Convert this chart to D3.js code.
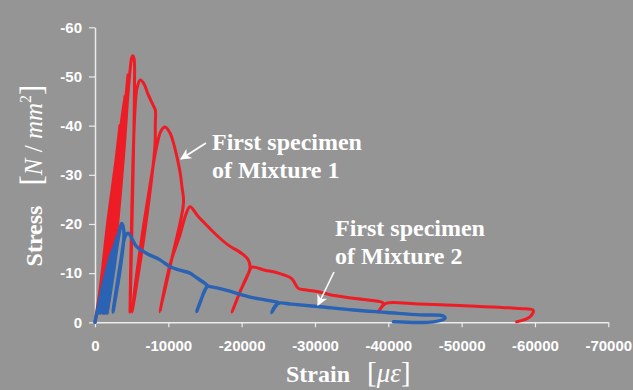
<!DOCTYPE html>
<html>
<head>
<meta charset="utf-8">
<script src="https://cdn.jsdelivr.net/npm/d3@7"></script>
<style>
  html, body { margin: 0; padding: 0; background: #959595; }
  svg { display: block; }
</style>
</head>
<body>
<svg id="chart" width="633" height="390"></svg>
<script>
// Axis ticks
const strainTicks = [0, -10000, -20000, -30000, -40000, -50000, -60000, -70000];
const stressTicks = [0, -10, -20, -30, -40, -50, -60];

// Mixture 1, first specimen: [strain (με), stress (N/mm²)]
const mixture1 = [
  [0, 0],
  [-682, -6.6], [-1773, -20.8], [-2864, -33.0], [-3409, -40.1],
  [-2045, -20.8], [-682, -1.9],
  [-2045, -18.8], [-3136, -35.0], [-4091, -46.3],
  [-2591, -22.8], [-1227, -1.9],
  [-2455, -16.7], [-3545, -35.0], [-4500, -50.3],
  [-3000, -24.9], [-1636, -1.9],
  [-2864, -16.7], [-3955, -35.0], [-4500, -46.5], [-4818, -51.8], [-5000, -53.8], [-5141, -54.2],
  [-5318, -53.7], [-5386, -48.3],
  [-5114, -24.9], [-4773, -2.1],
  [-4909, -14.7], [-5182, -33.0], [-5455, -43.2], [-5727, -47.6], [-6177, -49.3],
  [-6682, -48.5], [-7227, -46.4], [-8005, -43.9], [-8223, -43.2], [-8223, -40.1], [-8182, -36.1],
  [-6818, -18.8], [-5045, -2.1],
  [-6136, -14.7], [-7500, -27.9], [-8455, -36.1], [-8999, -38.9], [-9545, -39.7],
  [-10227, -38.5], [-10773, -36.1], [-11182, -33.6], [-11591, -30.6], [-11864, -27.5], [-12068, -24.3],
  [-10500, -13.1], [-8864, -2.1],
  [-10227, -11.7], [-11591, -17.8], [-12409, -22.0], [-12955, -23.5],
  [-14086, -21.5], [-15450, -19.4], [-16814, -17.4], [-18177, -15.7], [-20005, -14.0], [-20904, -12.7], [-21136, -11.0],
  [-19773, -6.2], [-18682, -2.1],
  [-20182, -7.6], [-21000, -10.2], [-21368, -11.2],
  [-23182, -10.6], [-24995, -10.0], [-26822, -8.9], [-27722, -6.9], [-28636, -6.6], [-30450, -6.2],
  [-31364, -5.9], [-32045, -5.6], [-35222, -4.9], [-38864, -4.2],
  [-39313, -3.9], [-39000, -2.9], [-38631, -2.1], [-39150, -3.2], [-39777, -3.9],
  [-44318, -3.7], [-51136, -3.3], [-57955, -2.8], [-59768, -2.4], [-59318, -1.1], [-57504, -0.1]
];

// Mixture 2, first specimen: [strain (με), stress (N/mm²)]
const mixture2 = [
  [0, 0],
  [-1091, -7.6], [-2318, -14.7],
  [-1500, -8.1], [-545, -1.9],
  [-1500, -8.6], [-2727, -16.2],
  [-1773, -8.6], [-818, -1.9],
  [-1773, -9.6], [-3000, -17.6],
  [-2045, -9.6], [-1091, -1.9],
  [-2045, -9.6], [-3273, -18.5],
  [-2318, -9.6], [-1364, -1.9],
  [-2318, -10.6], [-3409, -19.2],
  [-2455, -10.6], [-1636, -1.9],
  [-2455, -9.6], [-3136, -16.7], [-3641, -20.1],
  [-3818, -19.6], [-3955, -17.8], [-3409, -10.6], [-2864, -5.6], [-2455, -2.1],
  [-3000, -7.6], [-3545, -12.7], [-3955, -16.7], [-4227, -17.8], [-4541, -18.1],
  [-5686, -15.4], [-7050, -14.0], [-8864, -12.7], [-10227, -11.3], [-11591, -10.6], [-12955, -10.0],
  [-13636, -9.3], [-15000, -7.9], [-15232, -7.6],
  [-14727, -5.6], [-14182, -3.5], [-13868, -2.2], [-14455, -4.5], [-15000, -6.6], [-15409, -7.3],
  [-15914, -7.2], [-17727, -6.6], [-20005, -5.6], [-21818, -4.9], [-24545, -4.2], [-24995, -4.0],
  [-24545, -3.1], [-24095, -2.0], [-24545, -3.3], [-25091, -3.9],
  [-26822, -3.7], [-30450, -3.2], [-35222, -2.5], [-39777, -2.0], [-44318, -1.5], [-47495, -1.3],
  [-47727, -0.8], [-46131, -0.1], [-40677, -0.1]
];

const svg = d3.select("#chart");
const W = 633, H = 390;
svg.append("rect").attr("width", W).attr("height", H).attr("fill", "#959595");

const x = d3.scaleLinear().domain([0, -70000]).range([95, 608.3]);
const y = d3.scaleLinear().domain([0, -60]).range([322.3, 27.3]);

const axisColor = "#ececec";
const tickFont = "'Liberation Sans', Arial, sans-serif";

// Y axis
const gy = svg.append("g")
  .attr("transform", "translate(95,0)")
  .call(d3.axisLeft(y).tickValues(stressTicks).tickFormat(d => String(d))
    .tickSize(6).tickSizeOuter(0).tickPadding(7));
// X axis
const gx = svg.append("g")
  .attr("transform", "translate(0,322.3)")
  .call(d3.axisBottom(x).tickValues(strainTicks).tickFormat(d => String(d))
    .tickSize(5).tickSizeOuter(0).tickPadding(13));

[gx, gy].forEach(g => {
  g.select(".domain").attr("stroke", axisColor).attr("stroke-width", 1.5);
  g.selectAll(".tick line").attr("stroke", axisColor).attr("stroke-width", 1.2);
  g.selectAll(".tick text")
    .attr("fill", "#ffffff")
    .style("font-family", tickFont)
    .style("font-weight", "bold")
    .style("font-size", "15px");
});

// Curves: Mixture 1 underneath, Mixture 2 on top
const line = d3.line()
  .x(d => x(d[0]))
  .y(d => y(d[1]))
  .curve(d3.curveCatmullRom.alpha(0.5));

svg.append("path").datum(mixture1)
  .attr("d", line)
  .attr("fill", "none")
  .attr("stroke", "#ee1c24")
  .attr("stroke-width", 3)
  .attr("stroke-linejoin", "round")
  .attr("stroke-linecap", "round");

svg.append("path").datum(mixture2)
  .attr("d", line)
  .attr("fill", "none")
  .attr("stroke", "#2a62b4")
  .attr("stroke-width", 3.4)
  .attr("stroke-linejoin", "round")
  .attr("stroke-linecap", "round");

// Axis titles
const serif = "'Liberation Serif', 'Times New Roman', serif";

svg.append("text")
  .attr("transform", "translate(42,236) rotate(-90)")
  .attr("text-anchor", "middle")
  .attr("fill", "#ffffff")
  .style("font-family", serif)
  .style("font-weight", "bold")
  .style("font-size", "24px")
  .text("Stress");

const yUnit = svg.append("text")
  .attr("transform", "translate(42,135) rotate(-90)")
  .attr("text-anchor", "middle")
  .attr("fill", "#ffffff")
  .style("font-family", serif)
  .style("font-size", "25px");
yUnit.append("tspan").style("font-size", "31px").text("[");
yUnit.append("tspan").style("font-style", "italic").text("N");
yUnit.append("tspan").text(" / ");
yUnit.append("tspan").style("font-style", "italic").text("mm");
yUnit.append("tspan").attr("dy", -11).style("font-size", "16px").text("2");
yUnit.append("tspan").attr("dy", 11).style("font-size", "31px").text("]");

const xTitle = svg.append("text")
  .attr("x", 286).attr("y", 382)
  .attr("fill", "#ffffff")
  .style("font-family", serif)
  .style("font-size", "24px");
xTitle.append("tspan").style("font-weight", "bold").text("Strain");
xTitle.append("tspan").attr("x", 367).style("font-size", "29px").text("[");
xTitle.append("tspan").style("font-style", "italic").style("font-size", "27px").text("με");
xTitle.append("tspan").style("font-size", "29px").text("]");

// Annotations
const defs = svg.append("defs");
defs.append("marker")
  .attr("id", "head")
  .attr("viewBox", "0 0 10 10")
  .attr("refX", 9).attr("refY", 5)
  .attr("markerWidth", 7).attr("markerHeight", 7)
  .attr("orient", "auto")
  .append("path")
  .attr("d", "M0,0 L10,5 L0,10 L3,5 Z")
  .attr("fill", "#ffffff");

function note(lines, tx, ty, from, to) {
  const t = svg.append("text")
    .attr("fill", "#ffffff")
    .style("font-family", serif)
    .style("font-weight", "bold")
    .style("font-size", "24px");
  lines.forEach((s, i) => {
    t.append("tspan").attr("x", tx).attr("y", ty + i * 28).text(s);
  });
  svg.append("line")
    .attr("x1", from[0]).attr("y1", from[1])
    .attr("x2", to[0]).attr("y2", to[1])
    .attr("stroke", "#ffffff")
    .attr("stroke-width", 1.6)
    .attr("marker-end", "url(#head)");
}

note(["First specimen", "of Mixture 1"], 212, 150, [206, 143], [181, 159]);
note(["First specimen", "of Mixture 2"], 335, 236, [334, 272], [318, 305]);
</script>
</body>
</html>
